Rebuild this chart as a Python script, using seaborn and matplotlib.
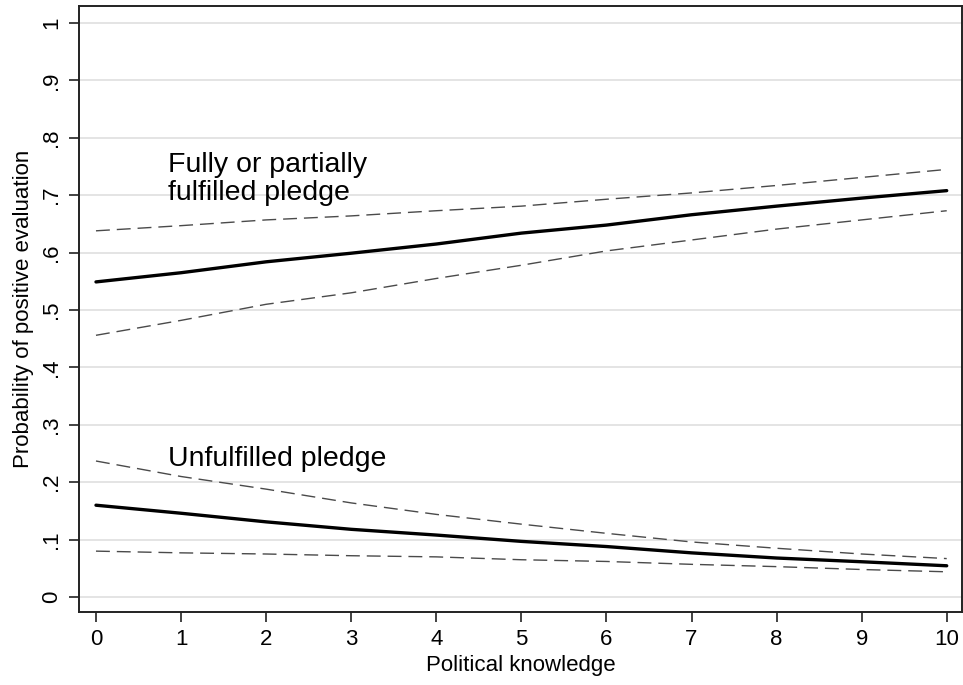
import matplotlib
matplotlib.use("Agg")
import matplotlib.pyplot as plt
import seaborn as sns
import pandas as pd

# Data
knowledge = [0, 1, 2, 3, 4, 5, 6, 7, 8, 9, 10]

fulfilled_mean = [0.549, 0.565, 0.584, 0.599, 0.615, 0.634, 0.648, 0.666, 0.681, 0.695, 0.708]
fulfilled_upper = [0.638, 0.647, 0.657, 0.664, 0.673, 0.681, 0.693, 0.704, 0.717, 0.731, 0.745]
fulfilled_lower = [0.456, 0.482, 0.510, 0.530, 0.555, 0.578, 0.603, 0.622, 0.641, 0.657, 0.673]

unfulfilled_mean = [0.160, 0.146, 0.131, 0.118, 0.108, 0.097, 0.088, 0.077, 0.068, 0.0615, 0.0545]
unfulfilled_upper = [0.237, 0.210, 0.188, 0.164, 0.144, 0.127, 0.111, 0.096, 0.085, 0.075, 0.067]
unfulfilled_lower = [0.080, 0.077, 0.075, 0.072, 0.070, 0.065, 0.062, 0.057, 0.053, 0.048, 0.044]

y_ticks = [0, 0.1, 0.2, 0.3, 0.4, 0.5, 0.6, 0.7, 0.8, 0.9, 1.0]
y_tick_labels = ["0", ".1", ".2", ".3", ".4", ".5", ".6", ".7", ".8", ".9", "1"]
x_ticks = knowledge
x_tick_labels = [str(v) for v in knowledge]

label_fulfilled = "Fully or partially\nfulfilled pledge"
label_unfulfilled = "Unfulfilled pledge"
x_label = "Political knowledge"
y_label = "Probability of positive evaluation"

sns.set_theme(style="white")
plt.rcParams["font.family"] = ["Liberation Sans", "DejaVu Sans"]

fig = plt.figure(figsize=(9.63, 6.85), dpi=100)
ax = fig.add_axes([0.082, 0.1066, 0.917, 0.8846])

series_ci = [fulfilled_upper, fulfilled_lower, unfulfilled_upper, unfulfilled_lower]
series_mean = [fulfilled_mean, unfulfilled_mean]

for s in series_ci:
    sns.lineplot(x=knowledge, y=s, ax=ax, color="#4a4a4a", linewidth=1.0, zorder=3)
    ax.lines[-1].set_dashes((10, 5))
for s in series_mean:
    sns.lineplot(x=knowledge, y=s, ax=ax, color="black", linewidth=2.4, zorder=4)

ax.set_xlim(-0.2, 10.18)
ax.set_ylim(-0.026, 1.0296)
ax.set_xticks(x_ticks)
ax.set_xticklabels(x_tick_labels, fontsize=16)
ax.set_yticks(y_ticks)
ax.set_yticklabels(y_tick_labels, fontsize=16, rotation=90, va="center")

ax.grid(axis="y", color="#e4e4e4", linewidth=1.4)
ax.grid(axis="x", visible=False)
ax.set_axisbelow(True)

for sp in ax.spines.values():
    sp.set_visible(True)
    sp.set_color("#222222")
    sp.set_linewidth(1.4)

ax.tick_params(axis="both", which="major", direction="out", length=7, width=1.2,
               color="#222222", pad=5, left=True, bottom=True, labelcolor="black")

ax.set_xlabel(x_label, fontsize=16, labelpad=4, color="black")
ax.set_ylabel(y_label, fontsize=16, labelpad=5, color="black")

ax.text(0.845, 0.776, label_fulfilled, fontsize=20.5, va="top", ha="left",
        color="black", linespacing=1.1)
ax.text(0.85, 0.263, label_unfulfilled, fontsize=20.5, va="top", ha="left", color="black")

fig.savefig("out.png", dpi=100)
